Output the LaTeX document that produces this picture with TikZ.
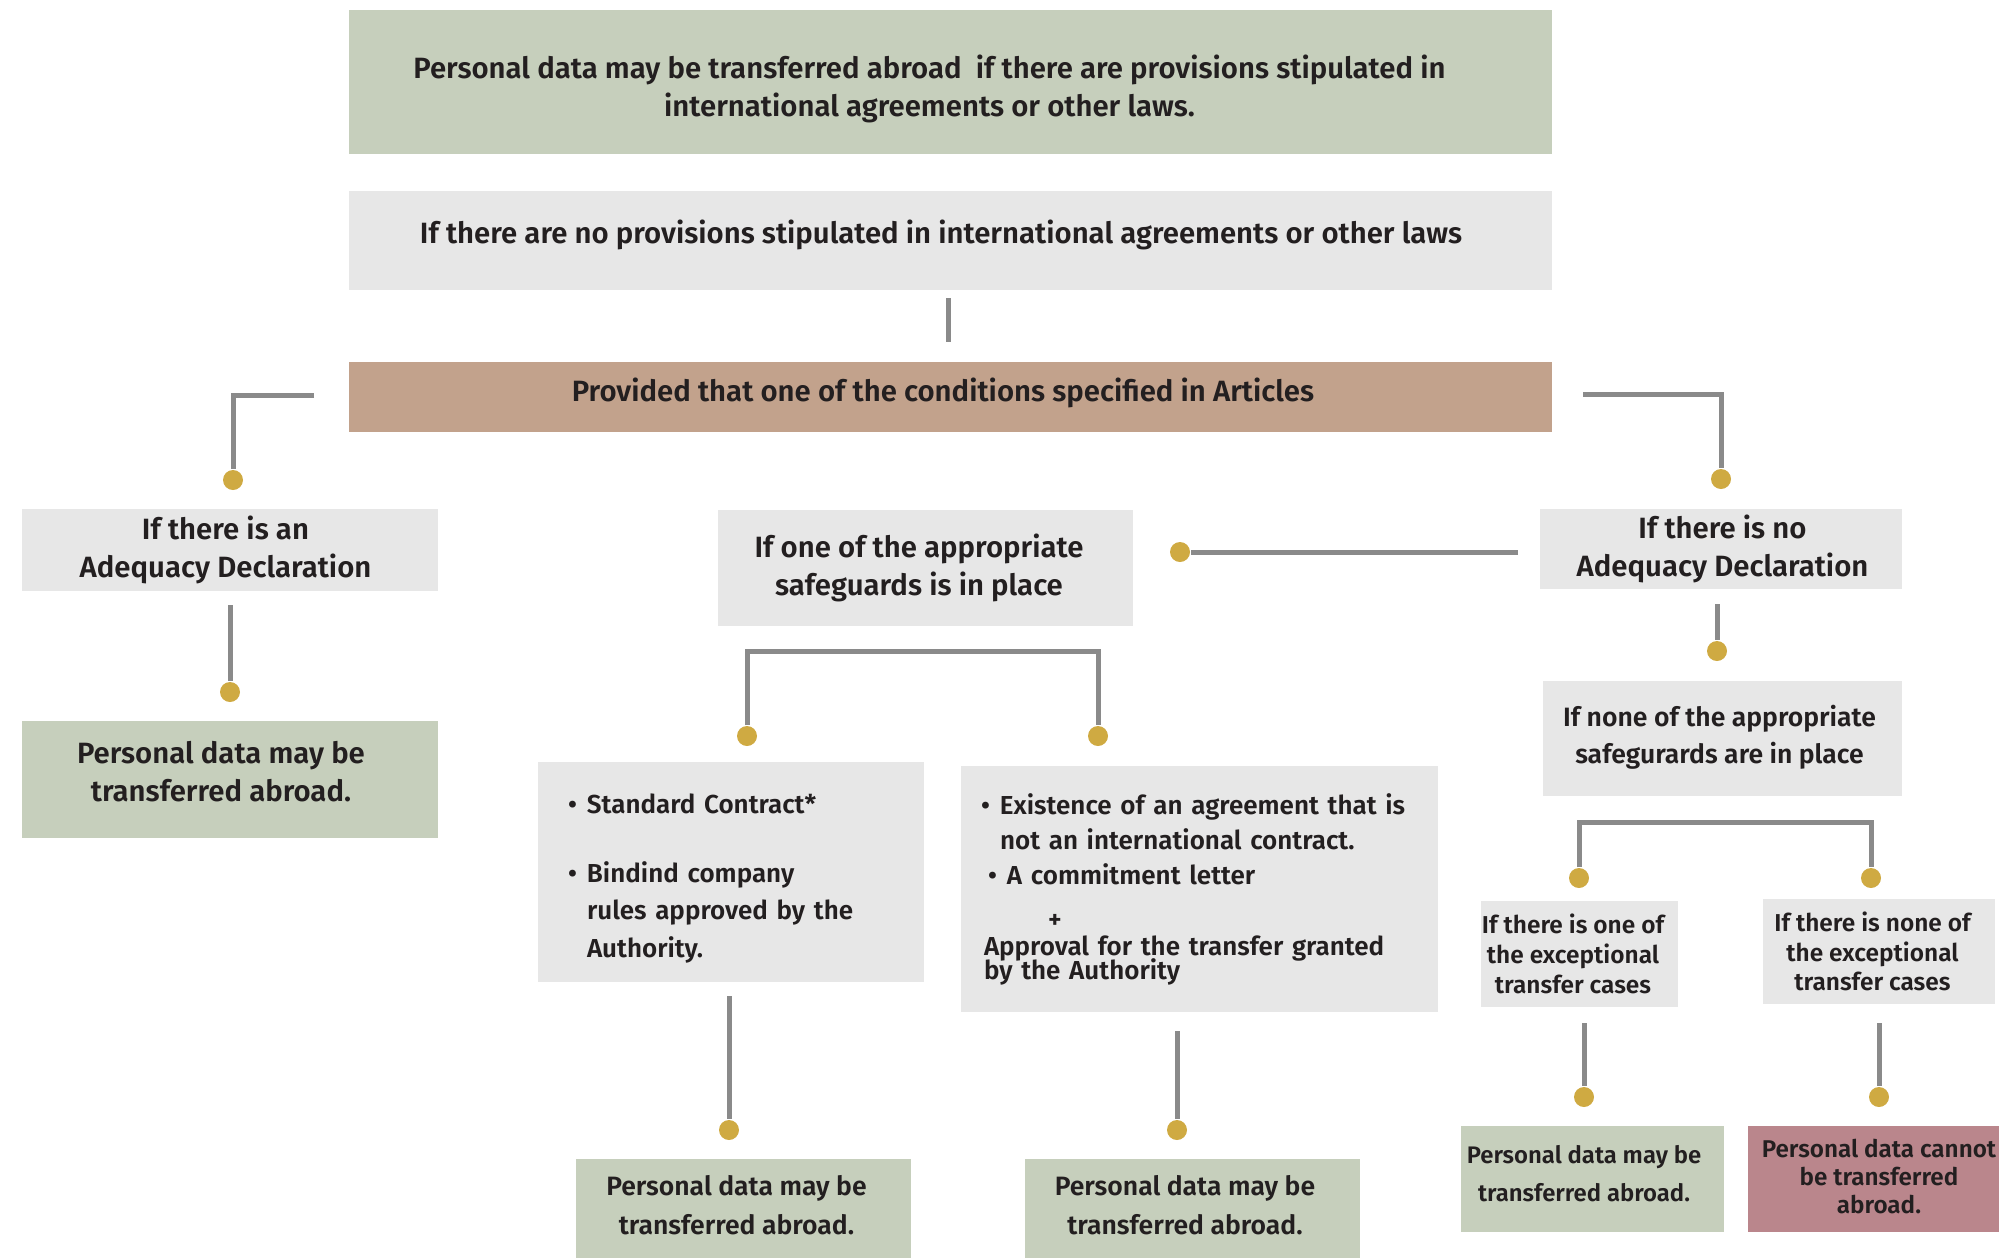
\documentclass[tikz,border=0pt]{standalone}
\usepackage{fontspec}
\setmainfont{Fira Sans SemiBold}
\usepackage{tikz}
\pgfdeclarelayer{bg}
\pgfsetlayers{bg,main}
\definecolor{boxgreen}{HTML}{C6CFBC}
\definecolor{boxgrey}{HTML}{E7E7E7}
\definecolor{boxbrown}{HTML}{C2A28C}
\definecolor{boxred}{HTML}{BA868C}
\definecolor{linegrey}{HTML}{8A8A8A}
\definecolor{dotgold}{HTML}{CFAA42}
\definecolor{textdark}{HTML}{231F20}
\tikzset{
  panel/.style={rectangle, inner sep=0pt},
  greenbox/.style={panel, fill=boxgreen},
  greybox/.style={panel, fill=boxgrey},
  brownbox/.style={panel, fill=boxbrown},
  redbox/.style={panel, fill=boxred},
  lbl/.style={inner sep=0pt, align=center, text=textdark},
  fbig/.style={font=\fontsize{8.35}{10.8}\selectfont},
  fmid/.style={font=\fontsize{7.55}{10.4}\selectfont},
  fsmall/.style={font=\fontsize{6.95}{8.5}\selectfont},
  golddot/.style={circle, fill=dotgold, inner sep=0pt, minimum size=0.2cm},
  conn/.style={draw=linegrey, line width=0.05cm},
}

\begin{document}
\begin{tikzpicture}
        \useasboundingbox (0,0) rectangle (19.99cm, -12.58cm);
        % boxes
        \node (top) [greenbox, minimum width=12.03cm, minimum height=1.44cm, label={[lbl, fbig, xshift=-0.21cm, yshift=-0.07cm]center:{Personal data may be transferred abroad\ \ if there are provisions stipulated in\\international agreements or other laws.}}] at (9.505cm, -0.820cm) {};
        \node (noprov) [greybox, minimum width=12.03cm, minimum height=0.99cm, label={[lbl, fbig, xshift=-0.095cm, yshift=0.06cm]center:{If there are no provisions stipulated in international agreements or other laws}}] at (9.505cm, -2.405cm) {};
        \node (provided) [brownbox, minimum width=12.03cm, minimum height=0.70cm, label={[lbl, fbig, xshift=-0.075cm, yshift=0.045cm]center:{Provided that one of the conditions specified in Articles}}] at (9.505cm, -3.970cm) {};
        \node (adeq) [greybox, minimum width=4.16cm, minimum height=0.82cm, label={[lbl, fbig, xshift=-0.045cm, yshift=0.0cm]center:{If there is an\\Adequacy Declaration}}] at (2.300cm, -5.500cm) {};
        \node (adeqyes) [greenbox, minimum width=4.16cm, minimum height=1.17cm, label={[lbl, fbig, xshift=-0.09cm, yshift=0.08cm]center:{Personal data may be\\transferred abroad.}}] at (2.300cm, -7.795cm) {};
        \node (safeg) [greybox, minimum width=4.15cm, minimum height=1.16cm, label={[lbl, fbig, xshift=-0.065cm, yshift=0.0cm]center:{If one of the appropriate\\safeguards is in place}}] at (9.255cm, -5.680cm) {};
        \node (noadeq) [greybox, minimum width=3.62cm, minimum height=0.80cm, label={[lbl, fbig, xshift=0.015cm, yshift=0.0cm]center:{If there is no\\Adequacy Declaration}}] at (17.210cm, -5.490cm) {};
        \node (nosafeg) [greybox, minimum width=3.59cm, minimum height=1.15cm, label={[lbl, fmid, xshift=-0.03cm, yshift=0.01cm]center:{If none of the appropriate\\safegurards are in place}}] at (17.225cm, -7.385cm) {};
        \node (stdc) [greybox, minimum width=3.86cm, minimum height=2.20cm, label={[lbl, align=left, text width=3.2cm, font=\fontsize{7.4}{10.7}\selectfont, xshift=-0.03cm, yshift=-0.065cm]center:{\makebox[0.19cm][l]{\textbullet}Standard Contract*\\[8.9pt]
                \makebox[0.19cm][l]{\textbullet}Bindind company\\
                \hspace*{0.19cm}rules approved by the\\
                \hspace*{0.19cm}Authority.}}] at (7.310cm, -8.720cm) {};
        \node (exist) [greybox, minimum width=4.77cm, minimum height=2.46cm, label={[lbl, align=left, text width=4.5cm, font=\fontsize{7.4}{9.9}\selectfont, xshift=0.065cm, yshift=-0.005cm]center:{\makebox[0.19cm][l]{\textbullet}Existence of an agreement that is\\
                \hspace*{0.19cm}not an international contract.\\
                \hspace*{0.07cm}\makebox[0.19cm][l]{\textbullet}A commitment letter\\[2.6pt]
                \hspace*{0.67cm}+\\[-2.05pt]
                \hspace*{0.03cm}Approval for the transfer granted\\[-3.1pt]
                \hspace*{0.03cm}by the Authority}}] at (11.995cm, -8.890cm) {};
        \node (mayA) [greenbox, minimum width=3.35cm, minimum height=0.99cm, label={[lbl, font=\fontsize{7.55}{10.9}\selectfont, xshift=-0.07cm, yshift=0.035cm]center:{Personal data may be\\transferred abroad.}}] at (7.435cm, -12.085cm) {};
        \node (mayB) [greenbox, minimum width=3.35cm, minimum height=0.99cm, label={[lbl, font=\fontsize{7.55}{10.9}\selectfont, xshift=-0.075cm, yshift=0.035cm]center:{Personal data may be\\transferred abroad.}}] at (11.925cm, -12.085cm) {};
        \node (exc) [greybox, minimum width=1.97cm, minimum height=1.06cm, label={[lbl, fsmall, xshift=-0.065cm]center:{If there is one of\\the exceptional\\transfer cases}}] at (15.795cm, -9.540cm) {};
        \node (noexc) [greybox, minimum width=2.32cm, minimum height=1.05cm, label={[lbl, fsmall, xshift=-0.065cm]center:{If there is none of\\the exceptional\\transfer cases}}] at (18.790cm, -9.515cm) {};
        \node (mayC) [greenbox, minimum width=2.63cm, minimum height=1.06cm, label={[lbl, font=\fontsize{6.8}{10.9}\selectfont, xshift=-0.085cm, yshift=0.055cm]center:{Personal data may be\\transferred abroad.}}] at (15.925cm, -11.790cm) {};
        \node (cannot) [redbox, minimum width=2.51cm, minimum height=1.06cm, label={[lbl, font=\fontsize{6.9}{8.05}\selectfont, xshift=0.055cm, yshift=0.025cm]center:{Personal data cannot\\be transferred\\abroad.}}] at (18.735cm, -11.790cm) {};
        % dots
        \node (dL) [golddot] at (2.330cm, -4.800cm) {};
        \node (dR) [golddot] at (17.210cm, -4.790cm) {};
        \node (dAdq) [golddot] at (2.300cm, -6.920cm) {};
        \node (dSafe) [golddot] at (11.800cm, -5.520cm) {};
        \node (dNoA) [golddot] at (17.170cm, -6.510cm) {};
        \node (dS1) [golddot] at (7.470cm, -7.360cm) {};
        \node (dS2) [golddot] at (10.980cm, -7.360cm) {};
        \node (dE1) [golddot] at (15.790cm, -8.780cm) {};
        \node (dE2) [golddot] at (18.710cm, -8.780cm) {};
        \node (dStd) [golddot] at (7.290cm, -11.300cm) {};
        \node (dExi) [golddot] at (11.770cm, -11.300cm) {};
        \node (dExc) [golddot] at (15.840cm, -10.970cm) {};
        \node (dNoE) [golddot] at (18.790cm, -10.970cm) {};
        % free ends
        \coordinate (cA) at (9.480cm, -2.980cm);
        \coordinate (cB) at (9.480cm, -3.420cm);
        \coordinate (cL) at (3.140cm, -3.950cm);
        \coordinate (cR) at (15.830cm, -3.940cm);
        \coordinate (cAdq) at (2.300cm, -6.050cm);
        \coordinate (cSafe) at (15.180cm, -5.520cm);
        \coordinate (cNoA) at (17.170cm, -6.040cm);
        \coordinate (cSt) at (9.200cm, -6.510cm);
        \coordinate (cE) at (17.250cm, -8.225cm);
        \coordinate (cStd) at (7.290cm, -9.960cm);
        \coordinate (cExi) at (11.770cm, -10.310cm);
        \coordinate (cExc) at (15.840cm, -10.230cm);
        \coordinate (cNoE) at (18.790cm, -10.230cm);
        \begin{pgfonlayer}{bg}
                \draw [conn] (cA) -- (cB);
                \draw [conn] (cL) -| (dL);
                \draw [conn] (cR) -| (dR);
                \draw [conn] (cAdq) -- (dAdq);
                \draw [conn] (cSafe) -- (dSafe);
                \draw [conn] (cNoA) -- (dNoA);
                \draw [conn] (dS1) |- (cSt) -| (dS2);
                \draw [conn] (dE1) |- (cE) -| (dE2);
                \draw [conn] (cStd) -- (dStd);
                \draw [conn] (cExi) -- (dExi);
                \draw [conn] (cExc) -- (dExc);
                \draw [conn] (cNoE) -- (dNoE);
        \end{pgfonlayer}
\end{tikzpicture}
\end{document}
